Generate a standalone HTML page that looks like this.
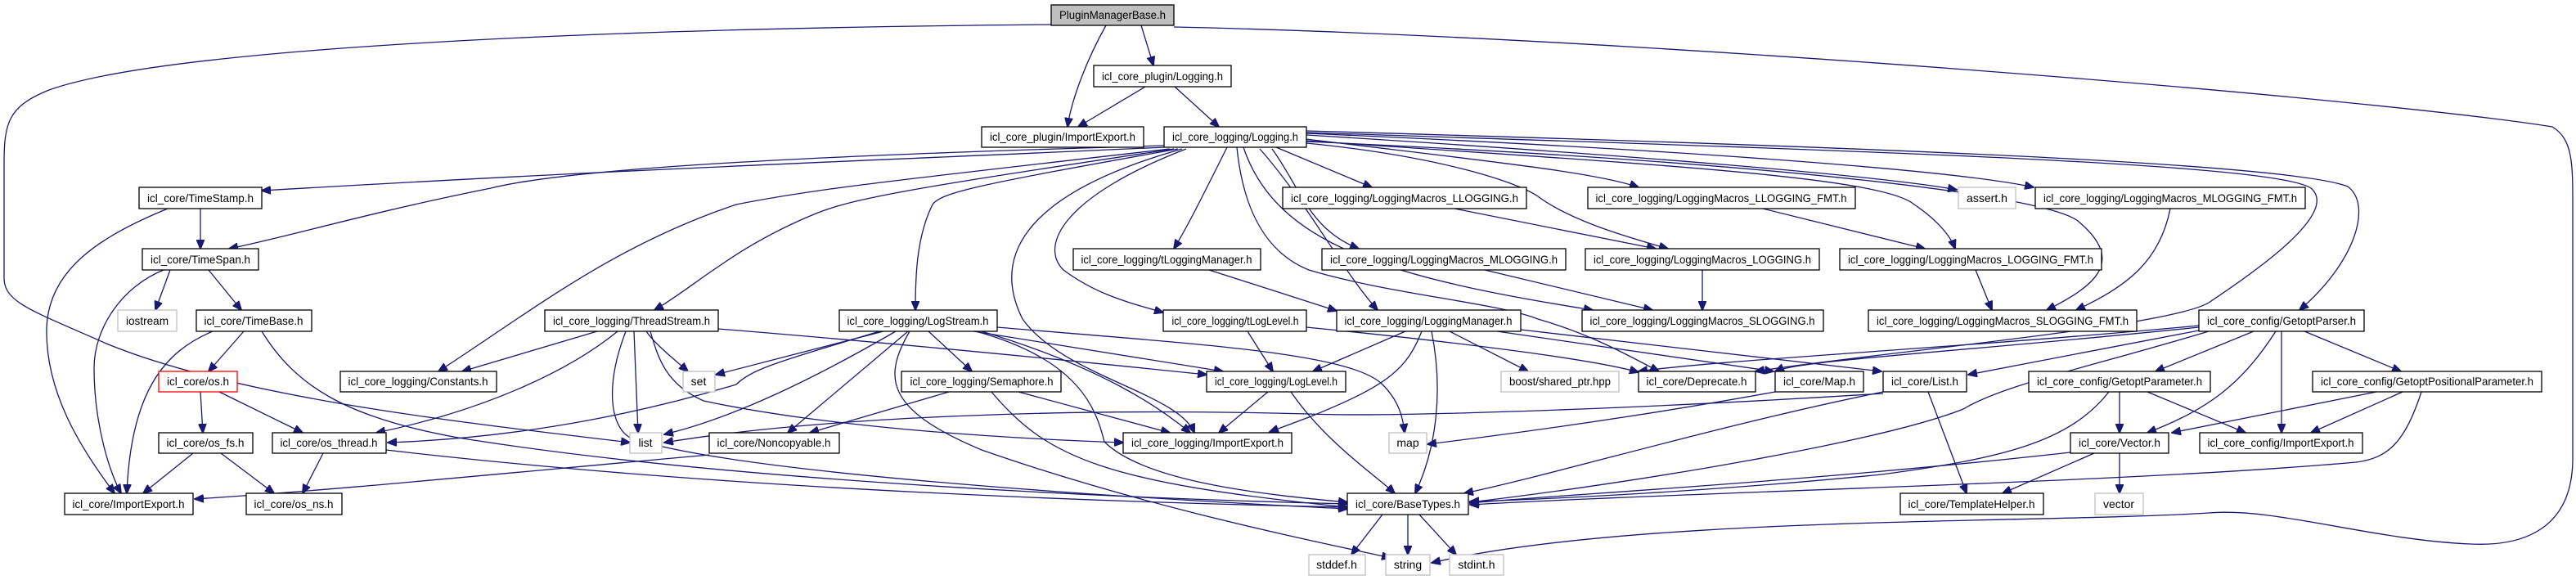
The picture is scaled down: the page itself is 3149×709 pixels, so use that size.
<!DOCTYPE html>
<html><head><meta charset="utf-8"><style>
html,body{margin:0;padding:0;background:#fff;width:3149px;height:709px;overflow:hidden}
svg{display:block}
text{font-family:"Liberation Sans",sans-serif;font-size:14px;fill:#000}
.e{fill:none;stroke:#191970;stroke-width:1.3}
.n{fill:#fff;stroke:#000;stroke-width:1.3}
.g{fill:#fff;stroke:#bfbfbf;stroke-width:1.3}
</style></head><body>
<svg width="3149" height="709" viewBox="0 0 3149 709" xmlns="http://www.w3.org/2000/svg">
<defs><marker id="a" markerWidth="12" markerHeight="10" refX="11" refY="5" orient="auto" markerUnits="userSpaceOnUse"><path d="M0,0 L12,5 L0,10 z" fill="#191970" stroke="#191970"/></marker></defs>
<g marker-end="url(#a)">
<path class="e" d="M1395,31 L1410,80"/>
<path class="e" d="M1352,31 C1330,70 1310,120 1305,155"/>
<path class="e" d="M1400,106 L1318,155"/>
<path class="e" d="M1436,106 L1490,155"/>
<path class="e" d="M1285,30 C700,35 200,60 60,110 C10,130 5,150 5,200 L5,340 C5,370 40,380 130,420 C300,490 600,520 770,541"/>
<path class="e" d="M1435,33 C2000,45 2900,120 3120,155 C3145,170 3145,200 3145,250 L3145,560 C3145,650 3080,668 3020,665 C2900,660 2780,620 2700,627 C2500,640 2000,630 1750,688"/>
<path class="e" d="M1423,180 C1100,195 800,205 320,233"/>
<path class="e" d="M1423,178 C1000,190 700,205 600,230 C450,260 350,290 280,304"/>
<path class="e" d="M1430,182 C1100,220 1000,230 900,250 C750,300 650,380 536,454"/>
<path class="e" d="M1435,182 C1150,225 1050,240 1000,260 C900,300 850,350 800,379"/>
<path class="e" d="M1440,182 C1200,225 1150,235 1140,250 C1120,290 1119,340 1119,379"/>
<path class="e" d="M1450,182 C1300,240 1270,300 1300,330 C1340,360 1380,370 1422,382"/>
<path class="e" d="M1445,182 C1240,240 1215,320 1250,390 C1300,460 1440,480 1460,529"/>
<path class="e" d="M1500,180 C1470,240 1450,280 1435,304"/>
<path class="e" d="M1512,180 C1520,260 1550,310 1600,330 C1700,360 1830,370 1880,390 C1950,410 2000,440 2028,454"/>
<path class="e" d="M1540,182 C1600,250 1640,330 1684,379"/>
<path class="e" d="M1520,180 C1560,300 1700,340 1947,379"/>
<path class="e" d="M1560,180 L1677,229"/>
<path class="e" d="M1555,182 C1590,230 1600,280 1661,304"/>
<path class="e" d="M1597,170 C1800,195 1950,210 2003,229"/>
<path class="e" d="M1597,175 C1750,190 1850,220 1880,240 C1920,270 1990,290 2039,304"/>
<path class="e" d="M1597,165 C2000,190 2300,215 2392,232"/>
<path class="e" d="M1597,163 C2100,185 2400,210 2486,229"/>
<path class="e" d="M1597,172 C2000,200 2300,215 2340,250 C2370,270 2385,290 2390,304"/>
<path class="e" d="M1597,173 C2200,200 2500,240 2540,270 C2600,320 2560,350 2502,379"/>
<path class="e" d="M1597,160 C2300,180 2800,200 2870,228 C2900,250 2880,320 2811,379"/>
<path class="e" d="M1597,162 C2300,185 2780,200 2825,230 C2860,260 2760,330 2700,370 C2650,400 2300,430 2146,454"/>
<path class="e" d="M1478,330 L1634,380"/>
<path class="e" d="M245,255 L245,304"/>
<path class="e" d="M205,255 C120,290 60,330 57,400 C55,480 100,550 140,603"/>
<path class="e" d="M208,330 L190,379"/>
<path class="e" d="M255,330 L295,379"/>
<path class="e" d="M200,330 C150,350 115,400 115,450 C115,520 135,580 148,603"/>
<path class="e" d="M298,405 L255,454"/>
<path class="e" d="M260,405 C200,430 160,480 155,603"/>
<path class="e" d="M320,405 C360,470 420,510 560,535 C900,590 1400,610 1647,616"/>
<path class="e" d="M245,479 L248,529"/>
<path class="e" d="M268,479 L370,529"/>
<path class="e" d="M236,554 L175,603"/>
<path class="e" d="M270,554 L335,603"/>
<path class="e" d="M395,554 L370,603"/>
<path class="e" d="M472,550 C900,600 1400,615 1647,620"/>
<path class="e" d="M730,405 L565,454"/>
<path class="e" d="M755,405 C700,450 600,500 460,529"/>
<path class="e" d="M790,405 C800,420 825,440 841,454"/>
<path class="e" d="M775,405 L780,529"/>
<path class="e" d="M765,405 C740,470 745,520 770,535 C900,580 1400,610 1647,622"/>
<path class="e" d="M795,405 C805,440 815,470 860,490 C1000,520 1200,535 1373,541"/>
<path class="e" d="M878,402 C1100,420 1350,445 1475,458"/>
<path class="e" d="M1080,405 L875,458"/>
<path class="e" d="M1075,405 C960,440 920,450 900,470 C800,500 650,535 474,541"/>
<path class="e" d="M1095,405 C1000,460 900,510 812,531"/>
<path class="e" d="M1110,405 L963,529"/>
<path class="e" d="M1135,405 L1188,454"/>
<path class="e" d="M1112,405 C1080,460 1080,500 1200,550 C1400,620 1600,660 1700,682"/>
<path class="e" d="M1193,405 C1320,440 1340,500 1350,540 C1400,590 1550,605 1647,614"/>
<path class="e" d="M1200,405 C1350,450 1420,500 1455,529"/>
<path class="e" d="M1190,405 L1495,454"/>
<path class="e" d="M1219,400 C1450,420 1650,430 1690,470 C1710,490 1715,510 1717,529"/>
<path class="e" d="M1160,479 L990,529"/>
<path class="e" d="M1245,479 L1430,529"/>
<path class="e" d="M1212,479 C1280,560 1350,590 1647,620"/>
<path class="e" d="M1525,405 L1556,454"/>
<path class="e" d="M1597,400 C1800,420 1950,440 2003,455"/>
<path class="e" d="M1550,479 L1490,529"/>
<path class="e" d="M1578,479 C1620,540 1680,580 1705,603"/>
<path class="e" d="M1718,405 L1605,454"/>
<path class="e" d="M1738,405 C1720,450 1700,470 1600,510 L1552,528"/>
<path class="e" d="M1750,405 C1765,480 1755,550 1730,603"/>
<path class="e" d="M1772,405 L1868,454"/>
<path class="e" d="M1830,405 L2168,454"/>
<path class="e" d="M1859,403 L2300,454"/>
<path class="e" d="M2688,404 L2406,458"/>
<path class="e" d="M2688,400 C2400,430 2200,440 2170,454"/>
<path class="e" d="M2688,398 C2400,425 2100,440 2003,454"/>
<path class="e" d="M2755,405 L2635,454"/>
<path class="e" d="M2817,405 L2935,454"/>
<path class="e" d="M2782,405 C2740,470 2700,500 2625,529"/>
<path class="e" d="M2789,405 L2789,529"/>
<path class="e" d="M2700,405 C2550,450 2450,470 2400,500 C2300,540 2000,590 1797,614"/>
<path class="e" d="M2302,479 C2100,520 1900,580 1790,603"/>
<path class="e" d="M2357,479 L2404,603"/>
<path class="e" d="M2302,481 C2000,500 1700,510 1600,506 C1300,498 1000,510 812,541"/>
<path class="e" d="M2170,479 C2000,510 1850,530 1745,543"/>
<path class="e" d="M2591,479 L2591,529"/>
<path class="e" d="M2625,479 L2745,529"/>
<path class="e" d="M2578,479 C2530,540 2450,560 2300,580 C2100,600 1900,610 1797,613"/>
<path class="e" d="M2905,479 L2655,529"/>
<path class="e" d="M2937,479 L2825,529"/>
<path class="e" d="M2960,479 C2940,540 2920,560 2880,565 C2600,590 2100,600 1797,617"/>
<path class="e" d="M2531,553 C2200,590 1900,605 1797,615"/>
<path class="e" d="M2560,554 L2448,603"/>
<path class="e" d="M2591,554 L2591,603"/>
<path class="e" d="M1690,629 L1652,678"/>
<path class="e" d="M1721,629 L1721,678"/>
<path class="e" d="M1735,629 L1780,678"/>
<path class="e" d="M867,556 C600,580 400,600 238,610"/>
<path class="e" d="M1778,255 L2024,304"/>
<path class="e" d="M2155,255 L2353,304"/>
<path class="e" d="M2081,330 L2081,379"/>
<path class="e" d="M1815,330 L2020,379"/>
<path class="e" d="M2415,330 L2435,379"/>
<path class="e" d="M2653,255 C2640,320 2600,350 2538,379"/>
</g>
<g>
<rect x="1285" y="6" width="150" height="25" fill="#bfbfbf" stroke="#000" stroke-width="1.3"/><text x="1360" y="23" text-anchor="middle" textLength="130" lengthAdjust="spacingAndGlyphs">PluginManagerBase.h</text>
<rect class="n" x="1337" y="80" width="168" height="26"/><text x="1421" y="98" text-anchor="middle" textLength="148" lengthAdjust="spacingAndGlyphs">icl_core_plugin/Logging.h</text>
<rect class="n" x="1200" y="155" width="198" height="25"/><text x="1299" y="172" text-anchor="middle" textLength="178" lengthAdjust="spacingAndGlyphs">icl_core_plugin/ImportExport.h</text>
<rect class="n" x="1423" y="155" width="174" height="25"/><text x="1510" y="172" text-anchor="middle" textLength="154" lengthAdjust="spacingAndGlyphs">icl_core_logging/Logging.h</text>
<rect class="n" x="170" y="229" width="150" height="26"/><text x="245" y="247" text-anchor="middle" textLength="130" lengthAdjust="spacingAndGlyphs">icl_core/TimeStamp.h</text>
<rect class="n" x="1568" y="229" width="298" height="26"/><text x="1717" y="247" text-anchor="middle" textLength="278" lengthAdjust="spacingAndGlyphs">icl_core_logging/LoggingMacros_LLOGGING.h</text>
<rect class="n" x="1941" y="229" width="327" height="26"/><text x="2104" y="247" text-anchor="middle" textLength="307" lengthAdjust="spacingAndGlyphs">icl_core_logging/LoggingMacros_LLOGGING_FMT.h</text>
<rect class="g" x="2394" y="229" width="70" height="26"/><text x="2429" y="247" text-anchor="middle" textLength="50" lengthAdjust="spacingAndGlyphs">assert.h</text>
<rect class="n" x="2488" y="229" width="330" height="26"/><text x="2653" y="247" text-anchor="middle" textLength="310" lengthAdjust="spacingAndGlyphs">icl_core_logging/LoggingMacros_MLOGGING_FMT.h</text>
<rect class="n" x="174" y="304" width="142" height="26"/><text x="245" y="322" text-anchor="middle" textLength="122" lengthAdjust="spacingAndGlyphs">icl_core/TimeSpan.h</text>
<rect class="n" x="1312" y="304" width="229" height="26"/><text x="1426" y="322" text-anchor="middle" textLength="209" lengthAdjust="spacingAndGlyphs">icl_core_logging/tLoggingManager.h</text>
<rect class="n" x="1616" y="304" width="298" height="26"/><text x="1765" y="322" text-anchor="middle" textLength="278" lengthAdjust="spacingAndGlyphs">icl_core_logging/LoggingMacros_MLOGGING.h</text>
<rect class="n" x="1938" y="304" width="286" height="26"/><text x="2081" y="322" text-anchor="middle" textLength="266" lengthAdjust="spacingAndGlyphs">icl_core_logging/LoggingMacros_LOGGING.h</text>
<rect class="n" x="2249" y="304" width="320" height="26"/><text x="2409" y="322" text-anchor="middle" textLength="300" lengthAdjust="spacingAndGlyphs">icl_core_logging/LoggingMacros_LOGGING_FMT.h</text>
<rect class="g" x="144" y="379" width="72" height="26"/><text x="180" y="397" text-anchor="middle" textLength="52" lengthAdjust="spacingAndGlyphs">iostream</text>
<rect class="n" x="240" y="379" width="141" height="26"/><text x="310" y="397" text-anchor="middle" textLength="121" lengthAdjust="spacingAndGlyphs">icl_core/TimeBase.h</text>
<rect class="n" x="666" y="379" width="212" height="26"/><text x="772" y="397" text-anchor="middle" textLength="192" lengthAdjust="spacingAndGlyphs">icl_core_logging/ThreadStream.h</text>
<rect class="n" x="1026" y="379" width="193" height="26"/><text x="1122" y="397" text-anchor="middle" textLength="173" lengthAdjust="spacingAndGlyphs">icl_core_logging/LogStream.h</text>
<rect class="n" x="1422" y="379" width="175" height="26"/><text x="1510" y="397" text-anchor="middle" textLength="155" lengthAdjust="spacingAndGlyphs">icl_core_logging/tLogLevel.h</text>
<rect class="n" x="1634" y="379" width="225" height="26"/><text x="1746" y="397" text-anchor="middle" textLength="205" lengthAdjust="spacingAndGlyphs">icl_core_logging/LoggingManager.h</text>
<rect class="n" x="1934" y="379" width="295" height="26"/><text x="2081" y="397" text-anchor="middle" textLength="275" lengthAdjust="spacingAndGlyphs">icl_core_logging/LoggingMacros_SLOGGING.h</text>
<rect class="n" x="2284" y="379" width="328" height="26"/><text x="2448" y="397" text-anchor="middle" textLength="308" lengthAdjust="spacingAndGlyphs">icl_core_logging/LoggingMacros_SLOGGING_FMT.h</text>
<rect class="n" x="2688" y="379" width="202" height="26"/><text x="2789" y="397" text-anchor="middle" textLength="182" lengthAdjust="spacingAndGlyphs">icl_core_config/GetoptParser.h</text>
<rect x="194" y="454" width="96" height="25" fill="#fff" stroke="#ff0000" stroke-width="1.3"/><text x="242" y="471" text-anchor="middle" textLength="76" lengthAdjust="spacingAndGlyphs">icl_core/os.h</text>
<rect class="n" x="416" y="454" width="191" height="25"/><text x="511" y="471" text-anchor="middle" textLength="171" lengthAdjust="spacingAndGlyphs">icl_core_logging/Constants.h</text>
<rect class="g" x="835" y="454" width="39" height="25"/><text x="854" y="471" text-anchor="middle">set</text>
<rect class="n" x="1102" y="454" width="195" height="25"/><text x="1200" y="471" text-anchor="middle" textLength="175" lengthAdjust="spacingAndGlyphs">icl_core_logging/Semaphore.h</text>
<rect class="n" x="1475" y="454" width="170" height="25"/><text x="1560" y="471" text-anchor="middle" textLength="150" lengthAdjust="spacingAndGlyphs">icl_core_logging/LogLevel.h</text>
<rect class="g" x="1835" y="454" width="144" height="25"/><text x="1907" y="471" text-anchor="middle" textLength="124" lengthAdjust="spacingAndGlyphs">boost/shared_ptr.hpp</text>
<rect class="n" x="2003" y="454" width="143" height="25"/><text x="2074" y="471" text-anchor="middle" textLength="123" lengthAdjust="spacingAndGlyphs">icl_core/Deprecate.h</text>
<rect class="n" x="2170" y="454" width="108" height="25"/><text x="2224" y="471" text-anchor="middle" textLength="88" lengthAdjust="spacingAndGlyphs">icl_core/Map.h</text>
<rect class="n" x="2302" y="454" width="102" height="25"/><text x="2353" y="471" text-anchor="middle" textLength="82" lengthAdjust="spacingAndGlyphs">icl_core/List.h</text>
<rect class="n" x="2480" y="454" width="222" height="25"/><text x="2591" y="471" text-anchor="middle" textLength="202" lengthAdjust="spacingAndGlyphs">icl_core_config/GetoptParameter.h</text>
<rect class="n" x="2827" y="454" width="280" height="25"/><text x="2967" y="471" text-anchor="middle" textLength="260" lengthAdjust="spacingAndGlyphs">icl_core_config/GetoptPositionalParameter.h</text>
<rect class="n" x="194" y="529" width="115" height="25"/><text x="251" y="546" text-anchor="middle" textLength="95" lengthAdjust="spacingAndGlyphs">icl_core/os_fs.h</text>
<rect class="n" x="333" y="529" width="139" height="25"/><text x="402" y="546" text-anchor="middle" textLength="119" lengthAdjust="spacingAndGlyphs">icl_core/os_thread.h</text>
<rect class="g" x="770" y="529" width="39" height="25"/><text x="789" y="546" text-anchor="middle">list</text>
<rect class="n" x="867" y="529" width="159" height="25"/><text x="946" y="546" text-anchor="middle" textLength="139" lengthAdjust="spacingAndGlyphs">icl_core/Noncopyable.h</text>
<rect class="n" x="1373" y="529" width="206" height="25"/><text x="1476" y="546" text-anchor="middle" textLength="186" lengthAdjust="spacingAndGlyphs">icl_core_logging/ImportExport.h</text>
<rect class="g" x="1698" y="529" width="46" height="25"/><text x="1721" y="546" text-anchor="middle">map</text>
<rect class="n" x="2531" y="529" width="120" height="25"/><text x="2591" y="546" text-anchor="middle" textLength="100" lengthAdjust="spacingAndGlyphs">icl_core/Vector.h</text>
<rect class="n" x="2689" y="529" width="199" height="25"/><text x="2788" y="546" text-anchor="middle" textLength="179" lengthAdjust="spacingAndGlyphs">icl_core_config/ImportExport.h</text>
<rect class="n" x="79" y="603" width="157" height="26"/><text x="157" y="621" text-anchor="middle" textLength="137" lengthAdjust="spacingAndGlyphs">icl_core/ImportExport.h</text>
<rect class="n" x="301" y="603" width="117" height="26"/><text x="359" y="621" text-anchor="middle" textLength="97" lengthAdjust="spacingAndGlyphs">icl_core/os_ns.h</text>
<rect class="n" x="1647" y="603" width="148" height="26"/><text x="1721" y="621" text-anchor="middle" textLength="128" lengthAdjust="spacingAndGlyphs">icl_core/BaseTypes.h</text>
<rect class="n" x="2323" y="603" width="175" height="26"/><text x="2410" y="621" text-anchor="middle" textLength="155" lengthAdjust="spacingAndGlyphs">icl_core/TemplateHelper.h</text>
<rect class="g" x="2561" y="603" width="59" height="26"/><text x="2590" y="621" text-anchor="middle">vector</text>
<rect class="g" x="1600" y="678" width="69" height="25"/><text x="1634" y="695" text-anchor="middle">stddef.h</text>
<rect class="g" x="1694" y="678" width="54" height="25"/><text x="1721" y="695" text-anchor="middle">string</text>
<rect class="g" x="1772" y="678" width="66" height="25"/><text x="1805" y="695" text-anchor="middle">stdint.h</text>
</g>
</svg>
</body></html>
